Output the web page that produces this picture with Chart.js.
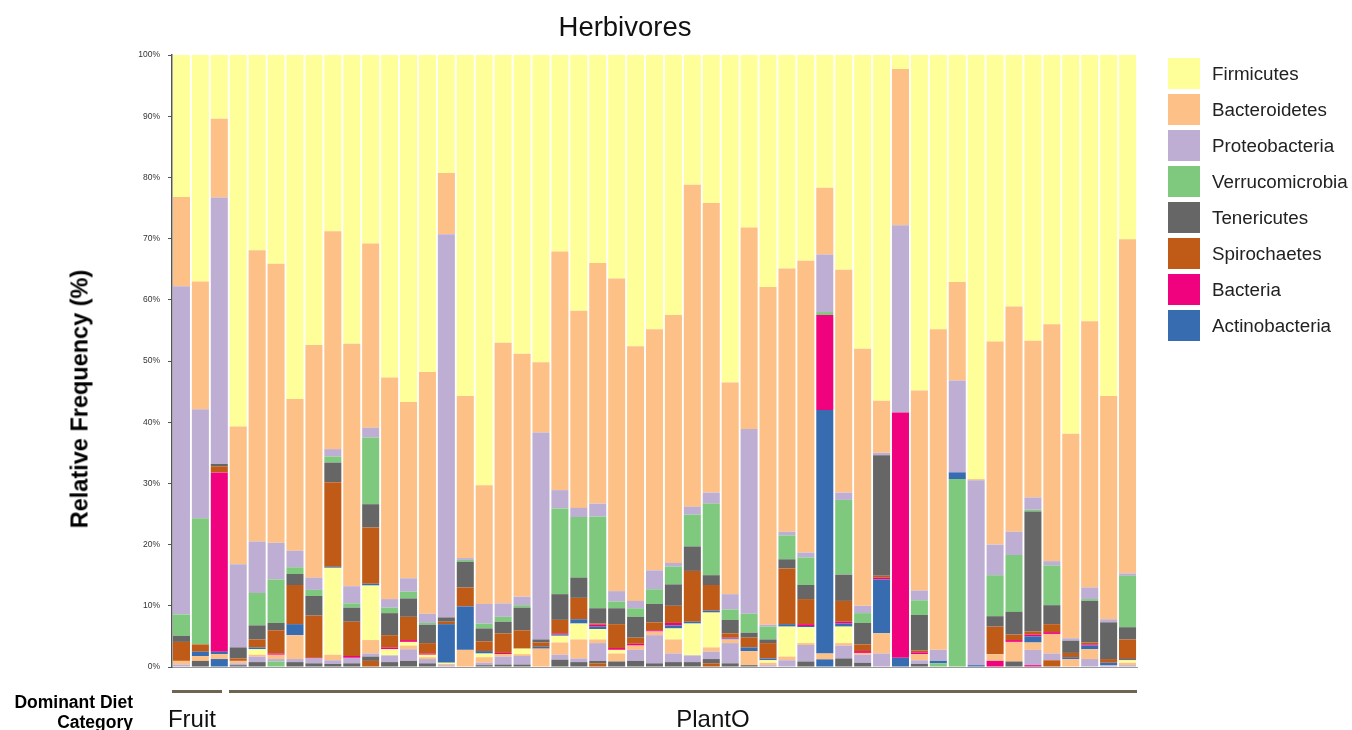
<!DOCTYPE html>
<html>
<head>
<meta charset="utf-8">
<script src="https://cdn.jsdelivr.net/npm/chart.js@4.4.1/dist/chart.umd.min.js"></script>
<style>
  html, body { margin: 0; padding: 0; background: #ffffff; }
  body { width: 1352px; height: 730px; position: relative; overflow: hidden; font-family: "Liberation Sans", Arial, sans-serif; }
  #chart { position: absolute; left: 0; top: 0; }
  #title { position: absolute; left: 0; width: 1250px; top: 11px; text-align: center; font-size: 27.5px; color: #111; }
  #ytitle { position: absolute; left: 80px; top: 399px; transform: translate(-50%, -50%) rotate(-90deg); white-space: nowrap; font-size: 23.5px; font-weight: bold; color: #000; }
  #legend { position: absolute; left: 1168px; top: 58px; }
  .item { height: 36px; display: flex; align-items: flex-start; }
  .swatch { width: 32px; height: 31px; margin-right: 12px; }
  .item span { font-size: 18.8px; color: #222; line-height: 32px; }
  #dietTitle { position: absolute; right: 1219px; top: 692px; text-align: right; font-size: 17.5px; font-weight: bold; line-height: 20px; color: #000; }
  .groupLine { position: absolute; height: 3px; background: #6f6452; }
  .groupLabel { position: absolute; top: 705px; font-size: 24px; color: #111; white-space: nowrap; transform: translateX(-50%); }
</style>
</head>
<body>
<canvas id="chart" width="1352" height="730"></canvas>
<div id="title">Herbivores</div>
<div id="ytitle">Relative Frequency (%)</div>
<div id="legend"></div>
<div id="dietTitle">Dominant Diet<br>Category</div>
<script>
// Samples, left to right, and the diet category each run of samples belongs to
const sampleIds = Array.from({ length: 51 }, (_, i) => 'H' + (i + 1));
const dietGroups = ['Fruit', 'PlantO'];
const dietGroupSizes = [3, 48];
const dietLabelShift = [-5, 30];
const yTicks = [0, 10, 20, 30, 40, 50, 60, 70, 80, 90, 100];

// Relative abundance (%) of each phylum per sample
const firmicutes = [23.2, 37.0, 10.4, 60.7, 31.9, 34.1, 56.2, 47.4, 28.8, 47.2,
  30.8, 52.7, 56.7, 51.8, 19.3, 55.7, 70.3, 47.0, 48.8, 50.2,
  32.1, 41.8, 34.0, 36.5, 47.6, 44.8, 42.5, 21.2, 24.2, 53.5,
  28.2, 37.9, 34.9, 33.6, 21.7, 35.1, 48.0, 56.5, 2.3, 54.8,
  44.8, 37.1, 69.3, 46.8, 41.1, 46.7, 44.0, 61.9, 43.5, 55.7,
  30.1];
const bacteroidetes = [14.6, 20.9, 12.9, 22.5, 47.6, 45.6, 24.8, 38.0, 35.6, 39.6,
  30.1, 36.2, 28.8, 39.5, 10.0, 26.5, 19.4, 42.6, 39.7, 11.5,
  39.0, 32.2, 39.3, 51.1, 41.6, 39.4, 40.5, 52.6, 47.3, 34.6,
  32.9, 55.2, 43.0, 47.7, 10.9, 36.4, 42.0, 8.5, 25.5, 32.7,
  52.4, 16.1, 0.2, 33.2, 36.8, 25.6, 38.7, 33.4, 43.5, 36.5,
  54.6];
const proteobacteria = [53.6, 17.8, 43.5, 13.6, 8.4, 6.0, 2.7, 2.0, 1.2, 2.8,
  1.6, 1.4, 2.2, 1.5, 62.6, 0.3, 3.2, 2.2, 1.4, 33.8,
  3.0, 1.5, 2.1, 1.7, 1.2, 3.1, 0.6, 1.3, 1.8, 2.5,
  30.2, 0.3, 0.6, 0.8, 9.4, 1.2, 1.2, 0.4, 30.6, 1.6,
  1.8, 15.0, 30.2, 5.0, 3.8, 2.0, 0.7, 0.4, 1.9, 0.5,
  0.4];
const verrucomicrobia = [3.5, 20.6, 0, 0, 5.3, 7.1, 1.1, 1.0, 1.0, 0.7,
  10.9, 0.9, 1.1, 0.3, 0, 0.3, 0.8, 0.8, 0.4, 0,
  14.0, 9.9, 15.0, 1.1, 1.4, 2.4, 2.9, 5.2, 11.7, 1.7,
  3.1, 2.1, 3.9, 4.5, 0.5, 12.2, 1.6, 0, 0, 2.4,
  0, 0, 0, 6.7, 9.3, 0.3, 6.5, 0, 0.3, 0,
  8.4];
const tenericutes = [1.0, 0, 0.4, 1.8, 2.3, 1.2, 1.8, 3.2, 3.2, 2.3,
  3.8, 3.6, 3.0, 3.0, 0.7, 4.2, 2.1, 1.9, 3.7, 0.5,
  4.2, 3.3, 2.5, 2.6, 3.4, 3.0, 3.5, 4.0, 1.6, 2.2,
  0.8, 0.6, 1.5, 2.3, 0, 4.3, 3.5, 19.7, 0, 5.8,
  0, 0, 0, 1.7, 3.7, 19.6, 3.1, 2.0, 6.8, 6.0,
  2.0];
const spirochaetes = [3.1, 1.2, 1.0, 0.4, 1.3, 3.8, 6.4, 6.9, 13.8, 5.6,
  9.2, 2.0, 3.8, 1.7, 0.4, 3.1, 1.6, 3.2, 3.0, 0.7,
  2.2, 3.5, 0.2, 3.9, 1.0, 1.3, 2.8, 8.3, 4.2, 0.7,
  1.6, 2.5, 9.1, 4.1, 0, 3.4, 1.1, 0.3, 0, 0.3,
  0, 0, 0, 4.5, 0.9, 0.5, 1.3, 0.7, 0.3, 0.6,
  3.2];
const bacteria = [0, 0, 29.3, 0, 0, 0.2, 0, 0.1, 0, 0.3,
  0, 0.3, 0.3, 0.2, 0, 0, 0, 0.2, 0, 0,
  0.2, 0, 0.3, 0.3, 0.3, 0.2, 0.4, 0, 0, 0.15,
  0, 0, 0, 0.3, 15.5, 0.3, 0.3, 0.3, 40.1, 0.3,
  0, 0, 0, 0, 0.3, 0.3, 0.3, 0, 0.2, 0,
  0];
const actinobacteria = [0, 0.7, 0.4, 0, 0.3, 0, 1.8, 0, 0.2, 0,
  0.3, 0, 0, 0, 6.3, 7.1, 0.4, 0, 0, 0.3,
  0.2, 0.7, 0.4, 0, 0, 0, 0.5, 0.3, 0.3, 0.15,
  0.6, 0.3, 0.4, 0.2, 39.8, 0.5, 0, 8.8, 1.5, 0,
  0.4, 1.1, 0.3, 0, 0, 1.0, 0, 0.3, 0.6, 0.4,
  0.2];
// Minor phyla below the eight named ones (colours repeat the palette)
const minor1 = [0, 0, 0, 0, 0.9, 0, 0, 0, 14.2, 0,
  8.9, 1.0, 0.6, 0.4, 0.2, 0, 0.6, 0, 0.9, 0,
  1.1, 2.6, 1.7, 0.6, 0, 0, 1.8, 5.2, 5.7, 0,
  0, 0.4, 4.9, 2.6, 0, 2.7, 0, 0, 0, 0,
  0, 0, 0, 0, 0, 0, 0, 0, 0, 0,
  0.4];
const minor2 = [0.6, 0.8, 0.8, 0.4, 0.3, 0.7, 3.9, 0, 0.9, 0,
  2.2, 0, 0.6, 0.3, 0.2, 2.8, 0.9, 0.4, 0.3, 3.0,
  2.0, 3.1, 0.6, 1.3, 0.7, 0.6, 2.3, 0, 0.7, 0.6,
  2.3, 0.4, 0.6, 0.3, 0.95, 0.4, 0.3, 3.3, 0, 1.0,
  0, 0, 0, 1.1, 3.2, 1.2, 3.2, 1.3, 1.6, 0,
  0.4];
const minor3 = [0.4, 0, 0, 0.3, 0.9, 0.4, 0.5, 0.8, 0.6, 0.9,
  0.5, 1.1, 1.9, 0.7, 0.3, 0, 0.4, 1.3, 1.4, 0,
  0.8, 0.6, 2.9, 0, 1.8, 4.6, 1.4, 1.1, 1.2, 3.3,
  0, 0.3, 1.1, 2.7, 0, 2.1, 1.3, 2.2, 0, 0.6,
  0, 0, 0, 0, 0, 2.5, 1.1, 0, 1.3, 0.3,
  0.3];
const minor4 = [0, 0, 0, 0, 0, 0.9, 0, 0, 0, 0,
  0, 0, 0, 0, 0, 0, 0, 0, 0, 0,
  0, 0, 0, 0, 0, 0, 0, 0, 0, 0,
  0, 0, 0, 0, 0, 0, 0, 0, 0, 0,
  0.6, 30.7, 0, 0, 0, 0, 0, 0, 0, 0,
  0];
const minor5 = [0, 1.0, 0, 0.3, 0.8, 0, 0.8, 0.6, 0.5, 0.6,
  0.7, 0.8, 1.0, 0.6, 0, 0, 0.3, 0.4, 0.4, 0,
  1.2, 0.8, 0.4, 0.9, 1.0, 0.6, 0.8, 0.8, 0.7, 0.6,
  0.3, 0, 0, 0.9, 0, 1.4, 0.7, 0, 0, 0.5,
  0, 0, 0, 0, 0.9, 0, 0, 0, 0, 0,
  0];
const minor6 = [0, 0, 0, 0, 0, 0, 0, 0, 0, 0,
  1.0, 0, 0, 0, 0, 0, 0, 0, 0, 0,
  0, 0, 0.6, 0, 0, 0, 0, 0, 0.6, 0,
  0, 0, 0, 0, 0, 0, 0, 0, 0, 0,
  0, 0, 0, 0, 0, 0, 1.1, 0, 0, 0,
  0];
const minor7 = [0, 0, 0, 0, 0, 0, 0, 0, 0, 0,
  0, 0, 0, 0, 0, 0, 0, 0, 0, 0,
  0, 0, 0, 0, 0, 0, 0, 0, 0, 0,
  0, 0, 0, 0, 0, 0, 0, 0, 0, 0,
  0, 0, 0, 1.0, 0, 0.3, 0, 0, 0, 0,
  0];
const minor8 = [0, 0, 1.3, 0, 0, 0, 0, 0, 0, 0,
  0, 0, 0, 0, 0, 0, 0, 0, 0, 0,
  0, 0, 0, 0, 0, 0, 0, 0, 0, 0,
  0, 0, 0, 0, 1.25, 0, 0, 0, 0, 0,
  0, 0, 0, 0, 0, 0, 0, 0, 0, 0,
  0];

const palette = {
  yellow: '#ffff99', orange: '#fdc086', purple: '#beaed4', green: '#7fc97f',
  gray: '#666666', brown: '#bf5b17', pink: '#f0027f', blue: '#386cb0'
};

// Stack order, bottom to top
const series = [
  { label: 'Minor 8', data: minor8, color: palette.blue, legend: false },
  { label: 'Minor 7', data: minor7, color: palette.pink, legend: false },
  { label: 'Minor 6', data: minor6, color: palette.brown, legend: false },
  { label: 'Minor 5', data: minor5, color: palette.gray, legend: false },
  { label: 'Minor 4', data: minor4, color: palette.green, legend: false },
  { label: 'Minor 3', data: minor3, color: palette.purple, legend: false },
  { label: 'Minor 2', data: minor2, color: palette.orange, legend: false },
  { label: 'Minor 1', data: minor1, color: palette.yellow, legend: false },
  { label: 'Actinobacteria', data: actinobacteria, color: palette.blue, legend: true },
  { label: 'Bacteria', data: bacteria, color: palette.pink, legend: true },
  { label: 'Spirochaetes', data: spirochaetes, color: palette.brown, legend: true },
  { label: 'Tenericutes', data: tenericutes, color: palette.gray, legend: true },
  { label: 'Verrucomicrobia', data: verrucomicrobia, color: palette.green, legend: true },
  { label: 'Proteobacteria', data: proteobacteria, color: palette.purple, legend: true },
  { label: 'Bacteroidetes', data: bacteroidetes, color: palette.orange, legend: true },
  { label: 'Firmicutes', data: firmicutes, color: palette.yellow, legend: true }
];

const chart = new Chart(document.getElementById('chart'), {
  type: 'bar',
  data: {
    labels: sampleIds,
    datasets: series.map(s => ({
      label: s.label,
      data: s.data,
      backgroundColor: s.color,
      borderWidth: 0,
      barPercentage: 0.9,
      categoryPercentage: 1.0
    }))
  },
  options: {
    responsive: false,
    animation: false,
    devicePixelRatio: 1,
    layout: { padding: { left: 0, right: 215, top: 55, bottom: 63 } },
    plugins: { legend: { display: false }, tooltip: { enabled: false }, title: { display: false } },
    scales: {
      x: {
        stacked: true,
        grid: { display: false },
        ticks: { display: false },
        border: { display: true, color: '#9a9a9a', width: 1 },
        afterFit(scale) { scale.height = 0; }
      },
      y: {
        stacked: true,
        min: 0,
        max: 100,
        afterBuildTicks(scale) { scale.ticks = yTicks.map(v => ({ value: v })); },
        ticks: {
          callback: v => v + '%',
          font: { family: 'Liberation Sans', size: 8.5 },
          color: '#333',
          padding: 8
        },
        grid: { drawOnChartArea: false, drawTicks: true, tickLength: 4, color: '#555' },
        border: { display: true, color: '#555', width: 1.5 },
        afterFit(scale) { scale.width = 172; }
      }
    }
  }
});

// Legend, top entry = top of the stack
const legendEl = document.getElementById('legend');
series.filter(s => s.legend).reverse().forEach(s => {
  const row = document.createElement('div');
  row.className = 'item';
  const sw = document.createElement('div');
  sw.className = 'swatch';
  sw.style.background = s.color;
  const tx = document.createElement('span');
  tx.textContent = s.label;
  row.appendChild(sw);
  row.appendChild(tx);
  legendEl.appendChild(row);
});

// Diet category brackets placed from the x scale
const xs = chart.scales.x;
const catW = (xs.right - xs.left) / sampleIds.length;
let start = 0;
dietGroups.forEach((name, g) => {
  const end = start + dietGroupSizes[g] - 1;
  const x0 = xs.getPixelForValue(start) - catW / 2;
  let x1 = xs.getPixelForValue(end) + catW / 2;
  if (g < dietGroups.length - 1) x1 -= 7;
  const line = document.createElement('div');
  line.className = 'groupLine';
  line.style.left = x0 + 'px';
  line.style.width = (x1 - x0) + 'px';
  line.style.top = (chart.chartArea.bottom + 23) + 'px';
  document.body.appendChild(line);
  const lab = document.createElement('div');
  lab.className = 'groupLabel';
  lab.textContent = name;
  lab.style.left = ((x0 + x1) / 2 + dietLabelShift[g]) + 'px';
  document.body.appendChild(lab);
  start = end + 1;
});
</script>
</body>
</html>
